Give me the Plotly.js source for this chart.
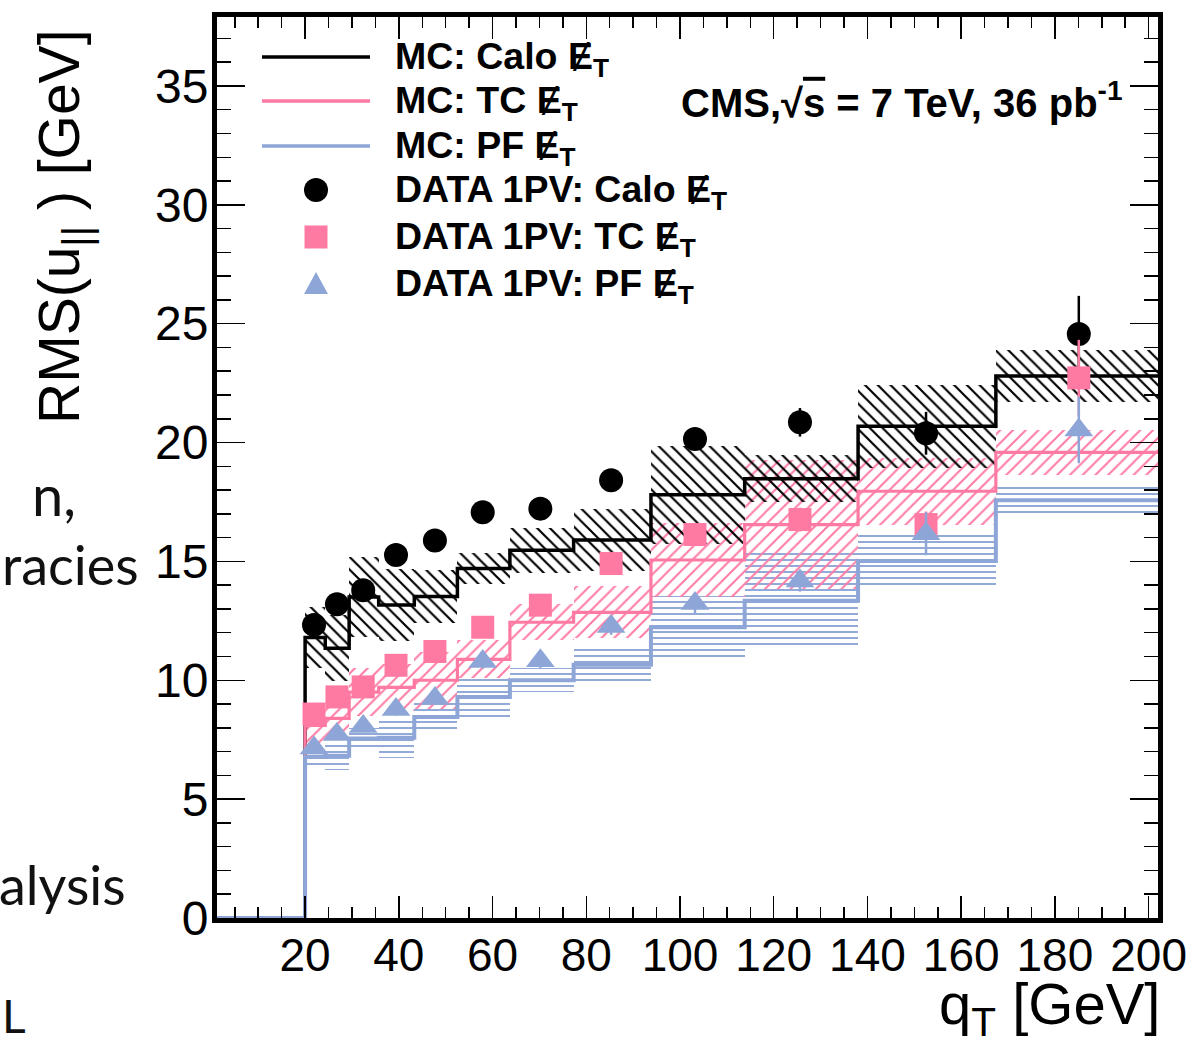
<!DOCTYPE html>
<html>
<head>
<meta charset="utf-8">
<script src="https://cdn.plot.ly/plotly-3.0.1.min.js"></script>
<style>
  html, body { margin: 0; padding: 0; background: #ffffff; }
  #chart { width: 1190px; height: 1049px; }
</style>
</head>
<body>
<div id="chart"></div>
<script>
// ---------------- data ----------------
// histogram bin edges of the MC curves (q_T, GeV); first bin is the empty 0-20 range
const binEdges = [0, 20, 24.3, 29.4, 35.7, 43.3, 52.5, 63.7, 77.3, 93.8, 113.8, 138.0, 167.4, 203.0];

// MC RMS(u_par) per bin (GeV)
const mcCalo = [0, 11.80, 11.35, 13.50, 13.17, 13.52, 14.70, 15.47, 15.90, 17.80, 18.48, 20.68, 22.80];
const mcTC   = [0,  8.10,  8.40,  9.50,  9.70, 10.00, 10.88, 12.44, 12.86, 15.06, 16.55, 17.95, 19.59];
const mcPF   = [0,  6.78,  6.82,  7.55,  7.58,  8.45,  9.30, 10.00, 10.65, 12.23, 13.35, 15.02, 17.57];

// MC systematic band half-widths (bins from 20 GeV on)
const bandCalo = [1.30, 1.40, 1.70, 1.50, 1.10, 0.65, 0.95, 1.30, 2.05, 1.00, 1.75, 1.10];
const bandTC   = [0.80, 0.80, 1.00, 1.00, 1.20, 0.80, 0.75, 1.10, 1.55, 2.70, 1.40, 0.95];
const bandPF   = [0.35, 0.60, 0.45, 0.85, 0.65, 0.85, 0.50, 0.75, 1.30, 2.05, 1.15, 0.65];

// DATA 1PV points
const dataQt   = [21.9, 26.8, 32.4, 39.4, 47.7, 57.9, 70.2, 85.3, 103.2, 125.6, 152.5, 185.1];
const dataCalo = [12.33, 13.20, 13.79, 15.27, 15.88, 17.07, 17.22, 18.41, 20.15, 20.85, 20.39, 24.57];
const errCalo  = [0.25, 0.25, 0.25, 0.25, 0.30, 0.30, 0.35, 0.40, 0.45, 0.60, 0.90, 1.60];
const dataTC   = [8.58, 9.30, 9.72, 10.63, 11.21, 12.23, 13.16, 14.91, 16.13, 16.76, 16.55, 22.72];
const errTC    = [0.20, 0.20, 0.20, 0.25, 0.25, 0.30, 0.30, 0.35, 0.40, 0.50, 0.55, 1.60];
const dataPF   = [7.15, 7.72, 8.06, 8.77, 9.23, 10.79, 10.82, 12.26, 13.23, 14.18, 16.16, 20.53];
const errPF    = [0.20, 0.20, 0.20, 0.25, 0.25, 0.30, 0.30, 0.35, 0.40, 0.45, 0.90, 1.40];

const xTicks = [20, 40, 60, 80, 100, 120, 140, 160, 180, 200];
const yTicks = [0, 5, 10, 15, 20, 25, 30, 35];

const legendLabels = [
  'MC: Calo \u0246<sub>T</sub>',
  'MC: TC \u0246<sub>T</sub>',
  'MC: PF \u0246<sub>T</sub>',
  'DATA 1PV: Calo \u0246<sub>T</sub>',
  'DATA 1PV: TC \u0246<sub>T</sub>',
  'DATA 1PV: PF \u0246<sub>T</sub>'
];
const cmsLabel = 'CMS,\u221A<span style="text-decoration:overline">s</span> = 7 TeV, 36 pb<sup>-1</sup>';
const xTitle = 'q<sub>T</sub> [GeV]';
const yTitle = 'RMS(u<sub>||</sub> ) [GeV]';
const slideFragments = ['n,', 'racies', 'alysis', 'L'];

// ---------------- styling ----------------
const BLACK = '#000000';
const PINK = '#ff7aa3';
const BLUE = '#8ea6d7';
const FONT = 'Liberation Sans, Arial, Helvetica, sans-serif';

// plot area in pixels
const PL = 217, PR = 1158, PT = 17, PB = 918;
const px2x = p => (p - PL) / (PR - PL);
const py2y = p => (PB - p) / (PB - PT);

// ---------------- traces ----------------
function stepTrace(vals, color, width, name) {
  return {
    type: 'scatter', mode: 'lines', name: name,
    x: binEdges.slice(),
    y: vals.concat([vals[vals.length - 1]]),
    line: { shape: 'hv', color: color, width: width },
    hoverinfo: 'skip', showlegend: false, cliponaxis: true
  };
}
function bandTrace(vals, half, color, shape, size, solidity) {
  const xs = [], ws = [], base = [], hs = [];
  for (let i = 0; i < half.length; i++) {
    const lo = binEdges[i + 1], hi = binEdges[i + 2];
    xs.push((lo + hi) / 2);
    ws.push(hi - lo);
    base.push(vals[i + 1] - half[i]);
    hs.push(2 * half[i]);
  }
  return {
    type: 'bar', x: xs, y: hs, base: base, width: ws,
    marker: {
      color: color,
      line: { width: 0 },
      pattern: { shape: shape, fgcolor: color, bgcolor: 'rgba(0,0,0,0)', size: size, solidity: solidity, fillmode: 'replace' }
    },
    hoverinfo: 'skip', showlegend: false
  };
}
function dataTrace(ys, errs, color, symbol, size) {
  return {
    type: 'scatter', mode: 'markers', x: dataQt, y: ys,
    marker: { color: color, symbol: symbol, size: size, line: { width: 0 } },
    error_y: { type: 'data', array: errs, visible: true, color: color, thickness: 2.5, width: 0 },
    hoverinfo: 'skip', showlegend: false, cliponaxis: false
  };
}

const traces = [
  bandTrace(mcPF, bandPF, BLUE, '-', 6, 0.32),
  bandTrace(mcTC, bandTC, PINK, '/', 9, 0.22),
  bandTrace(mcCalo, bandCalo, BLACK, '\\', 9, 0.24),
  stepTrace(mcCalo, BLACK, 3.5, 'MC Calo'),
  stepTrace(mcTC, PINK, 3.2, 'MC TC'),
  stepTrace(mcPF, BLUE, 4, 'MC PF'),
  dataTrace(dataCalo, errCalo, BLACK, 'circle', 24),
  dataTrace(dataTC, errTC, PINK, 'square', 23),
  dataTrace(dataPF, errPF, BLUE, 'triangle-up', 25)
];

// ---------------- legend (drawn as decoration) ----------------
const rowY = [57, 101, 146, 190, 237, 284];
const shapes = [];
const annotations = [];
const lineCols = [BLACK, PINK, BLUE];
for (let i = 0; i < 3; i++) {
  shapes.push({ type: 'line', xref: 'paper', yref: 'paper',
    x0: px2x(262), x1: px2x(370), y0: py2y(rowY[i]), y1: py2y(rowY[i]),
    line: { color: lineCols[i], width: 3.5 } });
}
shapes.push({ type: 'circle', xref: 'paper', yref: 'paper',
  x0: px2x(316 - 12), x1: px2x(316 + 12), y0: py2y(rowY[3] + 12), y1: py2y(rowY[3] - 12),
  fillcolor: BLACK, line: { width: 0 } });
shapes.push({ type: 'rect', xref: 'paper', yref: 'paper',
  x0: px2x(316 - 11.5), x1: px2x(316 + 11.5), y0: py2y(rowY[4] + 11.5), y1: py2y(rowY[4] - 11.5),
  fillcolor: PINK, line: { width: 0 } });
shapes.push({ type: 'path', xref: 'paper', yref: 'paper',
  path: 'M ' + px2x(304) + ',' + py2y(rowY[5] + 10) + ' L ' + px2x(328) + ',' + py2y(rowY[5] + 10) +
        ' L ' + px2x(316) + ',' + py2y(rowY[5] - 12) + ' Z',
  fillcolor: BLUE, line: { width: 0 } });

for (let i = 0; i < legendLabels.length; i++) {
  annotations.push({ xref: 'paper', yref: 'paper', x: px2x(393), y: py2y(rowY[i] + 2),
    xanchor: 'left', yanchor: 'middle', showarrow: false,
    text: '<b>' + legendLabels[i] + '</b>',
    font: { family: FONT, size: 37.5, color: BLACK } });
}
annotations.push({ xref: 'paper', yref: 'paper', x: px2x(1124), y: py2y(100),
  xanchor: 'right', yanchor: 'middle', showarrow: false,
  text: '<b>' + cmsLabel + '</b>', font: { family: FONT, size: 40, color: BLACK } });

// axis titles
annotations.push({ xref: 'paper', yref: 'paper', x: px2x(1162), y: py2y(1008),
  xanchor: 'right', yanchor: 'middle', showarrow: false,
  text: xTitle, font: { family: FONT, size: 58, color: BLACK } });
annotations.push({ xref: 'paper', yref: 'paper', x: px2x(63), y: py2y(28),
  xanchor: 'center', yanchor: 'top', showarrow: false, textangle: -90,
  text: yTitle, font: { family: FONT, size: 57, color: BLACK } });

// fragments of the slide text cut off at the left edge
const fragPos = [[78, 494, 56, 'right'], [141, 564, 54, 'right'], [128, 884, 54, 'right'], [0, 1016, 46, 'left']];
for (let i = 0; i < slideFragments.length; i++) {
  annotations.push({ xref: 'paper', yref: 'paper', x: px2x(fragPos[i][0]), y: py2y(fragPos[i][1]),
    xanchor: fragPos[i][3], yanchor: 'middle', showarrow: false,
    text: slideFragments[i], font: { family: 'Lato, Open Sans, sans-serif', size: fragPos[i][2], color: '#111111' } });
}

const layout = {
  width: 1190, height: 1049,
  margin: { l: PL, r: 1190 - PR, t: PT, b: 1049 - PB, pad: 0 },
  paper_bgcolor: '#ffffff', plot_bgcolor: '#ffffff',
  showlegend: false,
  barmode: 'overlay', bargap: 0,
  font: { family: FONT, color: BLACK },
  xaxis: {
    range: [1.2, 202], tickmode: 'array', tickvals: xTicks, ticktext: xTicks.map(String),
    ticks: 'inside', ticklen: 22, tickwidth: 1.5, tickcolor: BLACK,
    minor: { ticks: 'inside', tick0: 0, dtick: 5, ticklen: 11, tickwidth: 1.5, tickcolor: BLACK },
    showline: true, linewidth: 5, linecolor: BLACK, mirror: 'allticks',
    showgrid: false, zeroline: false,
    tickfont: { family: FONT, size: 46, color: BLACK }, ticklabelstandoff: -7
  },
  yaxis: {
    range: [0, 37.9], tickmode: 'array', tickvals: yTicks, ticktext: yTicks.map(String),
    ticks: 'inside', ticklen: 28, tickwidth: 1.5, tickcolor: BLACK,
    minor: { ticks: 'inside', tick0: 0, dtick: 1, ticklen: 14, tickwidth: 1.5, tickcolor: BLACK },
    showline: true, linewidth: 5, linecolor: BLACK, mirror: 'allticks',
    showgrid: false, zeroline: false,
    tickfont: { family: FONT, size: 48, color: BLACK }, ticklabelstandoff: -6
  },
  shapes: shapes,
  annotations: annotations
};

Plotly.newPlot('chart', traces, layout, { staticPlot: true, displayModeBar: false });
</script>
</body>
</html>
